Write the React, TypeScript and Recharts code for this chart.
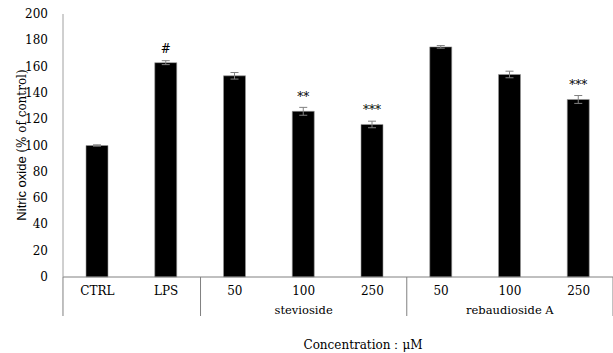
import { BarChart, Bar, XAxis, YAxis, ErrorBar, LabelList } from 'recharts';

const categories = ['CTRL', 'LPS', '50', '100', '250', '50', '100', '250'];
const nitricOxide = [100, 163, 153, 126, 116, 175, 154, 135];
const sem = [0.5, 1.5, 2.5, 3, 2.5, 1, 2.5, 3];
const marks = ['', '#', '', '**', '***', '', '', '***'];
const groups = ['', '', '', 'stevioside', '', '', 'rebaudioside A', ''];
const yTicks = [0, 20, 40, 60, 80, 100, 120, 140, 160, 180, 200];

const data = categories.map((c, i) => ({
    key: `${c}-${i}`,
    label: c,
    value: nitricOxide[i],
    err: sem[i],
    sig: marks[i],
    group: groups[i],
}));

const serif = '"DejaVu Serif", "Liberation Serif", serif';
const half = 34.4;

function CategoryTick(props: any) {
    const { x, y, payload, index } = props;
    const d = data[index];
    const lines = [];
    if (index === 0) lines.push(x - half);
    if (index === 1 || index === 4 || index === 7) lines.push(x + half);
    return (
        <g>
            {lines.map((lx, i) => (
                <line key={i} x1={lx} x2={lx} y1={y - 8} y2={y + 31} stroke="#808080" strokeWidth={1} />
            ))}
            <text x={x} y={y + 10} textAnchor="middle" fontFamily={serif} fontSize={12} fill="#000">
                {d ? d.label : payload.value}
            </text>
            {d && d.group && (
                <text x={x} y={y + 29} textAnchor="middle" fontFamily={serif} fontSize={11.5} fill="#000">
                    {d.group}
                </text>
            )}
        </g>
    );
}

function ValueTick(props: any) {
    const { x, y, payload } = props;
    return (
        <text x={x - 1} y={y} dy={4} textAnchor="end" fontFamily={serif} fontSize={12} fill="#000">
            {payload.value}
        </text>
    );
}

export default function App() {
    return (
        <div style={{ width: 613, height: 353, position: 'relative', background: '#fff' }}>
            <style>{'body{margin:0}'}</style>
            <BarChart width={613} height={353} data={data} margin={{ top: 14, right: 0, left: 0, bottom: 0 }} barCategoryGap={0}>
                <XAxis
                    dataKey="key"
                    interval={0}
                    tickLine={false}
                    axisLine={{ stroke: '#808080' }}
                    tick={<CategoryTick />}
                    height={76}
                />
                <YAxis
                    width={63}
                    domain={[0, 200]}
                    ticks={yTicks}
                    interval={0}
                    tickLine={false}
                    axisLine={{ stroke: '#a0a0a0' }}
                    tick={<ValueTick />}
                    tickMargin={8}
                />
                <Bar dataKey="value" fill="#000" stroke="#9a9a9a" strokeWidth={0.6} barSize={22} isAnimationActive={false}>
                    <ErrorBar dataKey="err" width={4} stroke="#808080" strokeWidth={1} direction="y" />
                    <LabelList dataKey="sig" position="top" offset={10} fontSize={12} fill="#000" fontFamily={serif} />
                </Bar>
            </BarChart>
            <div
                style={{
                    position: 'absolute',
                    left: 22,
                    top: 145,
                    transform: 'translate(-50%, -50%) rotate(-90deg)',
                    whiteSpace: 'nowrap',
                    fontSize: 12,
                    color: '#000',
                }}
            >
                <span style={{ fontFamily: '"Liberation Sans", Arial, sans-serif', fontSize: 13 }}>Nitric oxide </span>
                <span style={{ fontFamily: serif }}>(% of control)</span>
            </div>
            <div
                style={{
                    position: 'absolute',
                    left: 363,
                    top: 345,
                    transform: 'translate(-50%, -50%)',
                    whiteSpace: 'nowrap',
                    fontSize: 12,
                    fontFamily: serif,
                    color: '#000',
                }}
            >
                Concentration：μM
            </div>
        </div>
    );
}
